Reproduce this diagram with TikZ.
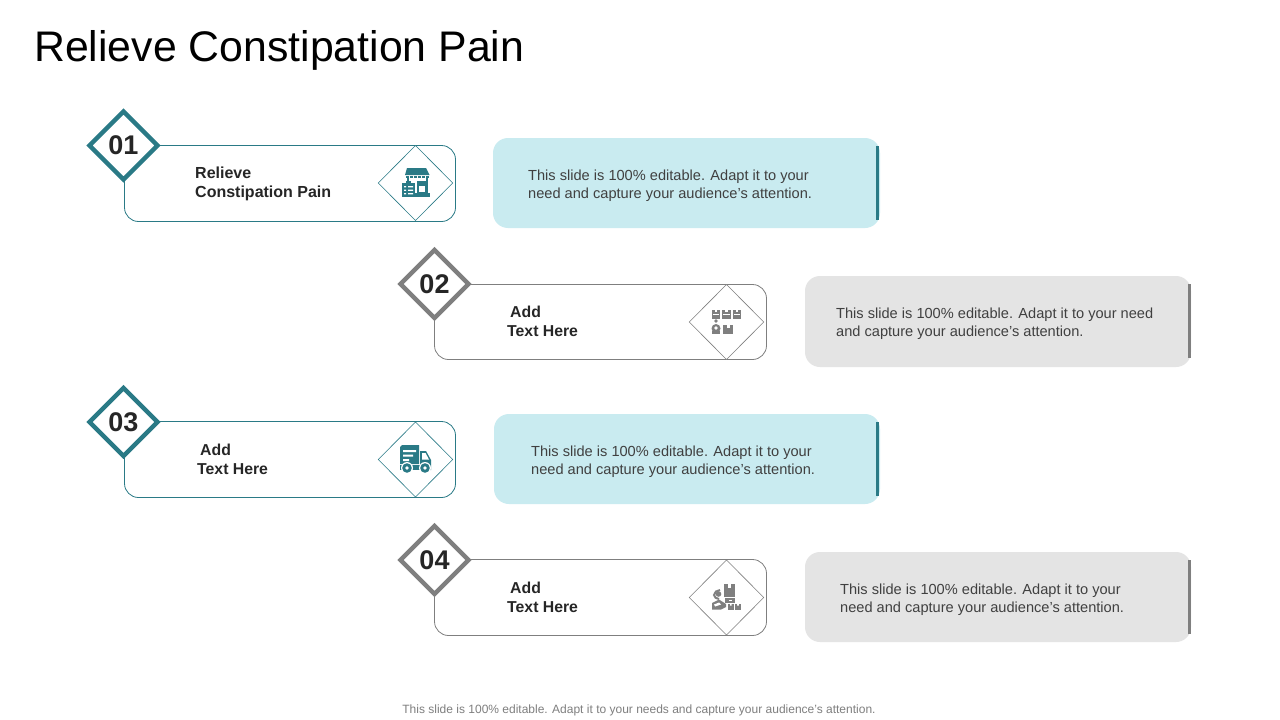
\documentclass[tikz,border=0pt]{standalone}
\usepackage{fontspec}
\setmainfont{Liberation Sans}
\usetikzlibrary{shapes.geometric}
\definecolor{teal1}{HTML}{2A7A86}
\definecolor{gray1}{HTML}{7F7F7F}
\definecolor{lightteal}{HTML}{C9EBF0}
\definecolor{lightgray}{HTML}{E4E4E4}
\definecolor{bodytxt}{HTML}{404040}
\definecolor{headtxt}{HTML}{262626}
\tikzset{
  card/.style={draw=#1,line width=0.8pt,rounded corners=14pt,fill=white},
  panel/.style={fill=#1,rounded corners=15pt},
  numdiamond/.style={shape=diamond,aspect=1,draw=#1,fill=white,line width=4.5pt,minimum width=68pt,minimum height=68pt,inner sep=0pt,outer sep=0pt,text=headtxt,font=\fontsize{27}{27}\selectfont\bfseries},
  icondiamond/.style={shape=diamond,aspect=1,draw=#1,fill=white,line width=0.6pt,minimum width=74.5pt,minimum height=75pt,inner sep=0pt,outer sep=0pt},
  head/.style={anchor=west,align=left,text=headtxt,inner sep=0pt,font=\fontsize{16}{19}\selectfont\bfseries},
  headb/.style={head,font=\fontsize{15.8}{19}\selectfont\bfseries},
  bodyt/.style={anchor=west,align=left,text=bodytxt,inner sep=0pt,font=\fontsize{14.6}{18}\selectfont},
  sidebar/.style={fill=#1},
}
\begin{document}
\begin{tikzpicture}[x=1pt,y=-1pt]
\useasboundingbox (0,0) rectangle (1280,720);
\fill[white] (0,0) rectangle (1280,720);
\node[anchor=west,inner sep=0pt,font=\fontsize{42.8}{50}\selectfont,text=black] (title) at (34,50) {Relieve Constipation Pain};

% panels
\fill[panel=lightteal] (493,138) rectangle (880,228);
\fill[sidebar=teal1] (876,146) rectangle (879,220);
\fill[panel=lightgray] (805,276) rectangle (1191,367);
\fill[sidebar=gray1] (1188,284) rectangle (1191,358);
\fill[panel=lightteal] (494,414) rectangle (880,504);
\fill[sidebar=teal1] (876,422) rectangle (879,496);
\fill[panel=lightgray] (805,552) rectangle (1191,642);
\fill[sidebar=gray1] (1188,560) rectangle (1191,634);

\node[bodyt] (p1) at (528,186) {This slide is 100\% editable.  Adapt it to your\\need and capture your audience’s attention.};
\node[bodyt] (p2) at (836,324) {This slide is 100\% editable.  Adapt it to your need\\and capture your audience’s attention.};
\node[bodyt] (p3) at (531,462) {This slide is 100\% editable.  Adapt it to your\\need and capture your audience’s attention.};
\node[bodyt] (p4) at (840,600) {This slide is 100\% editable.  Adapt it to your\\need and capture your audience’s attention.};

% cards
\draw[card=teal1] (124.5,145.5) rectangle (455.5,221.5);
\draw[card=gray1] (434.5,284.5) rectangle (766.5,359.5);
\draw[card=teal1] (124.5,421.5) rectangle (455.5,497.5);
\draw[card=gray1] (434.5,559.5) rectangle (766.5,635.5);

\node[numdiamond=teal1] (n1) at (123.5,145.5) {01};
\node[numdiamond=gray1] (n2) at (434.5,284) {02};
\node[numdiamond=teal1] (n3) at (123.5,422) {03};
\node[numdiamond=gray1] (n4) at (434.5,560) {04};

\node[head] (h1) at (195,184) {Relieve\\Constipation Pain};
\node[headb] (h2) at (507,321.5) {\hspace*{3pt}Add\\Text Here};
\node[headb] (h3) at (197,459.5) {\hspace*{3pt}Add\\Text Here};
\node[headb] (h4) at (507,597.5) {\hspace*{3pt}Add\\Text Here};

\node[icondiamond=teal1] (d1) at (415.5,183) {};
\node[icondiamond=gray1] (d2) at (726.5,322) {};
\node[icondiamond=teal1] (d3) at (415.5,459.5) {};
\node[icondiamond=gray1] (d4) at (726.5,597.5) {};

% icon 1: shop and clipboard
\fill[teal1] (407,168) -- (426,168) -- (429.5,175) -- (405,175) -- cycle;
\foreach \sx in {405.5,409.5,413.5,417.5,421.5,425.5}{
  \fill[teal1] (\sx,175.8) rectangle +(3,2.2);
}
\fill[teal1] (407,178) rectangle (409,183);
\fill[teal1] (426,178) rectangle (428,193);
\fill[teal1] (417,181) rectangle (426,193);
\fill[white] (418.5,185.5) rectangle (424.5,191.5);
\fill[teal1] (414,193) rectangle (430,197);
\fill[teal1] (402,183) rectangle (415,197);
\fill[teal1] (406,181) rectangle (411,184);
\fill[white] (404,186) rectangle (406,187.3) (408,186) rectangle (413,187.3)
  (404,189.5) rectangle (406,190.8) (408,189.5) rectangle (413,190.8)
  (404,193) rectangle (406,194.3) (408,193) rectangle (413,194.3);

% icon 2: crates and worker
\foreach \cx in {711.5,722,732.5}{
  \fill[gray1] (\cx,309.5) rectangle +(8.5,9);
  \fill[white] (\cx+3,309.5) rectangle +(2.5,2.5);
  \fill[white] (\cx+1,314) rectangle +(6.5,1.2);
}
\fill[gray1] (716,321) circle[radius=1.8];
\fill[gray1] (716,328.5) circle[radius=4.5];
\fill[white] (716,328) circle[radius=1.8];
\fill[gray1] (712,331) rectangle (720,333.5);
\fill[gray1] (723,325) rectangle (733,333.5);
\fill[white] (727,325) rectangle (729.5,328);

% icon 3: truck
\fill[teal1] (402,445) -- (419,445) -- (419,464) -- (400,464) -- (400,447) to[out=-90,in=180] cycle;
\fill[white] (403,450) rectangle (416,452) (403,454.5) rectangle (413,456.5) (403,459) rectangle (409,461);
\fill[teal1] (420,451) -- (426,451) -- (431,460) -- (431,470) -- (420,470) -- cycle;
\fill[white] (422,453) -- (425.5,453) -- (429,459.5) -- (422,459.5) -- cycle;
\fill[teal1] (400,465) rectangle (420,470);
\fill[white] (407,468) circle[radius=6] (425,468) circle[radius=6];
\fill[teal1] (407,468) circle[radius=4.8] (425,468) circle[radius=4.8];
\fill[white] (407,468) circle[radius=1.8] (425,468) circle[radius=1.8];

% icon 4: worker with boxes
\fill[gray1] (724,584) rectangle (735,597);
\fill[white] (728,584) rectangle (731,588);
\fill[gray1] (725,598) rectangle (735,602.5);
\fill[white] (728.5,599.5) rectangle (731.5,600.5);
\fill[gray1] (728,603.5) rectangle (733.5,609.5);
\fill[gray1] (735,603.5) rectangle (741,609.5);
\fill[white] (730,603.5) rectangle (731.5,605.5) (737.2,603.5) rectangle (738.8,605.5);
\draw[gray1,line width=2pt] (720,590) to[out=190,in=90] (714,595) to[out=-90,in=170] (719,599);
\fill[gray1] (718.5,594) circle[radius=2.8];
\fill[gray1] (712,603) -- (719,599.5) -- (726,604) -- (726,607) -- (721,609.5) -- (712,609.5) -- cycle;
\fill[white] (714,604.5) -- (719,602.5) -- (721,604.5) -- (715,606.5) -- cycle;

\node[anchor=center,inner sep=0pt,text=gray1,font=\fontsize{12}{14}\selectfont] (foot) at (639,710.5) {This slide is 100\% editable. Adapt it to your needs and capture your audience’s attention.};
\end{tikzpicture}
\end{document}
